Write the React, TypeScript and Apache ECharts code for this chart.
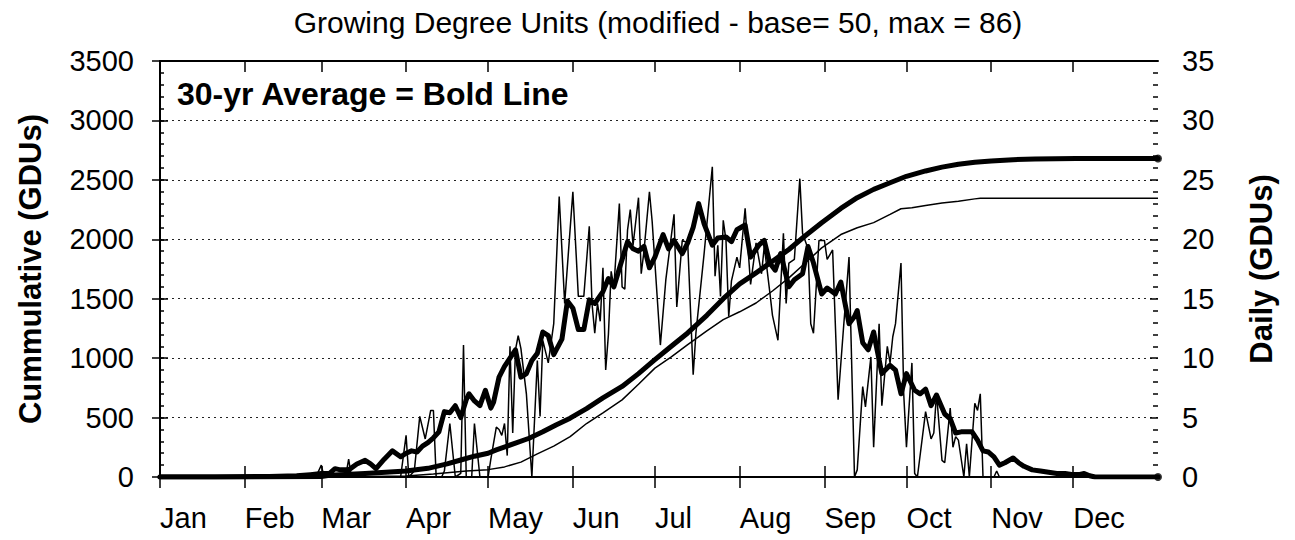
import React, { useEffect, useRef } from "react";
import * as echarts from "echarts";

const FONT = "'Liberation Sans', Arial, Helvetica, sans-serif";

const TITLE = "Growing Degree Units (modified - base= 50, max = 86)";
const NOTE = "30-yr Average = Bold Line";
const LEFT_NAME = "Cummulative (GDUs)";
const RIGHT_NAME = "Daily (GDUs)";

const MONTHS = ["Jan", "Feb", "Mar", "Apr", "May", "Jun", "Jul", "Aug", "Sep", "Oct", "Nov", "Dec"];
const MONTH_START = [0, 31, 59, 90, 120, 151, 181, 212, 243, 273, 304, 334];

// [day of year, GDUs]
const avgDaily: [number, number][] = [
  [0, 0], [20, 0], [40, 0.05], [50, 0.1], [55, 0.2], [59, 0.3], [62, 0.3], [64, 0.7], [66, 0.6], [69, 0.6],
  [72, 1.1], [75, 1.4], [77, 1.1], [79, 0.7], [82, 1.5], [85, 2.2], [88, 1.7], [90, 2.0], [92, 2.2], [94, 2.1],
  [96, 2.6], [98, 2.9], [100, 3.3], [102, 3.8], [104, 5.5], [106, 5.4], [108, 6.0], [110, 5.0], [112, 6.5], [113, 7.0],
  [115, 6.4], [117, 6.0], [119, 7.3], [121, 5.8], [122, 6.3], [124, 8.4], [126, 9.3], [128, 10.0], [130, 10.7], [132, 8.4],
  [134, 8.7], [136, 9.8], [138, 10.4], [140, 12.2], [142, 11.9], [144, 10.3], [147, 11.6], [149, 14.8], [151, 14.2], [153, 12.4],
  [155, 12.4], [157, 14.9], [159, 14.6], [162, 15.6], [164, 16.7], [166, 16.0], [169, 18.3], [171, 19.8], [173, 19.2], [175, 19.0],
  [177, 19.4], [179, 17.6], [181, 18.5], [184, 20.4], [186, 19.2], [188, 19.9], [191, 18.8], [193, 19.7], [195, 21.0], [197, 23.0],
  [199, 21.3], [202, 19.5], [204, 20.1], [207, 20.2], [209, 19.8], [211, 20.8], [214, 21.2], [216, 18.5], [219, 19.5], [221, 19.9],
  [223, 18.0], [225, 17.4], [227, 18.8], [230, 16.0], [232, 16.6], [235, 17.1], [237, 19.4], [239, 18.0], [242, 15.4], [244, 15.9],
  [247, 15.4], [249, 16.4], [252, 12.9], [254, 13.5], [255, 14.0], [257, 11.3], [259, 10.7], [261, 12.2], [262, 11.0], [264, 8.7],
  [267, 9.4], [269, 9.0], [271, 7.0], [273, 8.7], [276, 7.3], [278, 7.0], [280, 7.4], [282, 6.0], [284, 6.9], [287, 5.3],
  [289, 4.9], [291, 3.7], [293, 3.8], [297, 3.8], [299, 3.1], [301, 2.2], [303, 2.1], [305, 1.7], [307, 1.0], [309, 1.2],
  [312, 1.6], [314, 1.2], [316, 0.9], [319, 0.6], [322, 0.5], [325, 0.4], [328, 0.3], [331, 0.3], [334, 0.2], [336, 0.2],
  [338, 0.3], [340, 0.1], [342, 0], [365, 0],
];

const curDaily: [number, number][] = [
  [0, 0], [57, 0], [59, 1.0], [60, 0], [63, 0.3], [65, 0], [68, 0.2], [69, 1.5], [70, 0], [88, 0],
  [90, 3.5], [91, 0], [93, 0.5], [95, 5.1], [97, 3.2], [99, 5.6], [100, 5.6], [101, 0], [103, 0], [104, 0.5],
  [106, 4.5], [108, 0], [110, 0.3], [111, 11.1], [112, 0], [114, 0], [115, 4.5], [117, 0], [120, 0], [121, 1.5],
  [123, 4.2], [124, 4.0], [125, 3.5], [126, 4.5], [127, 1.8], [128, 11], [129, 3.7], [130, 10.7], [131, 11.9], [132, 10.8],
  [134, 7.0], [136, 0], [138, 9.8], [139, 5.1], [140, 11.5], [142, 9.6], [144, 12.9], [146, 23.6], [148, 14.6], [151, 24.0],
  [153, 15.2], [155, 15.2], [157, 21.1], [158, 14.6], [159, 12.1], [160, 14.6], [161, 13.1], [162, 17.6], [163, 9.0], [164, 12],
  [165, 17.3], [166, 16], [168, 23.0], [169, 16.0], [170, 15.8], [171, 20.8], [172, 22.5], [173, 19.5], [175, 23.5], [176, 17.1],
  [177, 19], [179, 24.0], [180, 21.5], [183, 11.1], [185, 16.6], [188, 22.1], [189, 14.3], [191, 19.9], [193, 19.7], [195, 8.6],
  [196, 12.1], [199, 18.8], [202, 26.1], [203, 16.9], [204, 19.5], [205, 15.2], [206, 21.6], [207, 19.9], [208, 13.5], [209, 16.5],
  [211, 18.5], [212, 17.6], [214, 22.6], [216, 16.2], [218, 19.7], [220, 17.1], [221, 19.4], [223, 15.6], [224, 13.6], [226, 11.5],
  [228, 20.5], [229, 14.6], [230, 18.0], [232, 18.3], [234, 25.1], [235, 20.5], [237, 19.2], [238, 12.9], [239, 12.1], [241, 19.9],
  [243, 19.9], [244, 18.3], [246, 19.1], [248, 6.5], [250, 12.6], [252, 18.5], [254, 0], [255, 0.6], [257, 7.6], [258, 5.9],
  [260, 10.1], [261, 2.5], [263, 12.9], [264, 6.0], [266, 11], [267, 9.6], [268, 11.8], [269, 12.9], [271, 18], [272, 7.0],
  [273, 2.5], [275, 9.6], [276, 0.3], [277, 0], [280, 5.5], [282, 3.2], [283, 3.7], [284, 7.0], [286, 1.4], [287, 1.2],
  [289, 5.8], [290, 2.5], [291, 3.4], [292, 3.1], [294, 0], [295, 2.8], [296, 0], [298, 6.2], [299, 5.6], [300, 7.0],
  [301, 0], [305, 0], [306, 0.5], [307, 0], [365, 0],
];

const avgCum: [number, number][] = [
  [0, 0], [30, 0], [59, 5], [62, 14], [75, 30], [90, 50], [98, 73], [105, 110], [110, 143], [115, 175],
  [120, 200], [123, 228], [130, 285], [135, 326], [140, 380], [145, 440], [150, 495], [156, 575], [162, 665], [169, 762],
  [175, 870], [181, 987], [187, 1100], [193, 1212], [200, 1360], [206, 1500], [212, 1625], [218, 1718], [224, 1815], [230, 1914],
  [236, 2030], [242, 2139], [249, 2260], [255, 2350], [261, 2420], [267, 2476], [273, 2530], [280, 2575], [286, 2607], [292, 2631],
  [298, 2648], [304, 2659], [312, 2670], [320, 2676], [335, 2680], [365, 2680],
];

const curCum: [number, number][] = [
  [0, 0], [59, 0], [70, 3], [90, 8], [100, 25], [107, 40], [112, 50], [120, 62], [126, 85], [132, 125],
  [138, 195], [144, 260], [150, 340], [156, 450], [162, 540], [169, 649], [175, 780], [181, 916], [187, 1010], [193, 1113],
  [200, 1230], [206, 1324], [212, 1390], [218, 1464], [224, 1565], [230, 1675], [236, 1800], [242, 1928], [249, 2040], [255, 2097],
  [261, 2140], [267, 2209], [271, 2257], [275, 2265], [280, 2285], [286, 2305], [292, 2321], [298, 2340], [300, 2345], [365, 2345],
];

const LEFT_MAX = 3500;
const LEFT_STEP = 500;
const RIGHT_MAX = 35;
const RIGHT_STEP = 5;

export default function App() {
  const ref = useRef<HTMLDivElement>(null);

  useEffect(() => {
    document.body.style.margin = "0";
    if (!ref.current) return;
    const chart = echarts.init(ref.current, null, { renderer: "svg" });
    const black = "#000";
    const tickLabelStyle = { color: black, fontSize: 29, fontFamily: FONT, formatter: (v: number) => String(v) };
    const nameStyle = { color: black, fontSize: 31, fontWeight: "bold", fontFamily: FONT };
    const xBase = { type: "value", min: 0, max: 365, splitLine: { show: false } };
    const monthTick = (inside: boolean) => ({
      show: true,
      customValues: MONTH_START,
      inside,
      length: 11,
      lineStyle: { color: black, width: 1.5 },
    });

    chart.setOption({
      animation: false,
      backgroundColor: "#fff",
      grid: { left: 160, right: 137, top: 61, bottom: 63, containLabel: false },
      graphic: [
        {
          type: "text",
          x: 658,
          y: 22,
          style: { text: TITLE, align: "center", verticalAlign: "middle", fontSize: 30, fontFamily: FONT, fill: black },
        },
        {
          type: "text",
          x: 177,
          y: 94,
          style: { text: NOTE, align: "left", verticalAlign: "middle", fontSize: 32, fontWeight: "bold", fontFamily: FONT, fill: black },
        },
      ],
      xAxis: [
        {
          ...xBase,
          position: "bottom",
          axisLine: { show: true, onZero: false, lineStyle: { color: black, width: 2 } },
          axisTick: monthTick(false),
          axisLabel: {
            ...tickLabelStyle,
            customValues: MONTH_START,
            align: "left",
            margin: 26,
            formatter: (v: number) => MONTHS[MONTH_START.indexOf(v)] ?? "",
          },
        },
        {
          ...xBase,
          position: "bottom",
          axisLine: { show: false },
          axisTick: monthTick(true),
          axisLabel: { show: false },
        },
        {
          ...xBase,
          position: "top",
          axisLine: { show: true, onZero: false, lineStyle: { color: black, width: 2 } },
          axisTick: monthTick(true),
          axisLabel: { show: false },
        },
      ],
      yAxis: [
        {
          type: "value",
          position: "left",
          min: 0,
          max: LEFT_MAX,
          interval: LEFT_STEP,
          name: LEFT_NAME,
          nameLocation: "middle",
          nameRotate: 90,
          nameGap: 114,
          nameTextStyle: nameStyle,
          axisLine: { show: true, lineStyle: { color: black, width: 2 } },
          axisTick: { show: true, length: 8, lineStyle: { color: black, width: 1.5 } },
          axisLabel: { ...tickLabelStyle, margin: 26 },
          splitLine: { show: true, lineStyle: { color: "#222", width: 1, type: [2, 4] } },
        },
        {
          type: "value",
          position: "right",
          min: 0,
          max: RIGHT_MAX,
          interval: RIGHT_STEP,
          name: RIGHT_NAME,
          nameLocation: "middle",
          nameRotate: 90,
          nameGap: 88,
          nameTextStyle: nameStyle,
          axisLine: { show: true, lineStyle: { color: black, width: 2 } },
          axisTick: { show: true, length: 8, lineStyle: { color: black, width: 1.5 } },
          axisLabel: { ...tickLabelStyle, margin: 24 },
          splitLine: { show: false },
        },
        {
          type: "value",
          position: "left",
          min: 0,
          max: LEFT_MAX,
          interval: LEFT_STEP,
          axisLine: { show: false },
          axisTick: { show: true, inside: true, length: 4, lineStyle: { color: black, width: 1.5 } },
          minorTick: { show: true, splitNumber: 5, length: 4, lineStyle: { color: black, width: 1.5 } },
          axisLabel: { show: false },
          splitLine: { show: false },
        },
        {
          type: "value",
          position: "right",
          min: 0,
          max: RIGHT_MAX,
          interval: RIGHT_STEP,
          axisLine: { show: false },
          axisTick: { show: true, inside: true, length: 8, lineStyle: { color: black, width: 1.5 } },
          minorTick: { show: true, splitNumber: 5, length: 5, lineStyle: { color: black, width: 1.5 } },
          axisLabel: { show: false },
          splitLine: { show: false },
        },
      ],
      series: [
        {
          type: "line",
          name: "Daily (current year)",
          xAxisIndex: 0,
          yAxisIndex: 1,
          data: curDaily,
          showSymbol: false,
          lineStyle: { color: black, width: 1.5 },
          z: 2,
        },
        {
          type: "line",
          name: "Cumulative (current year)",
          xAxisIndex: 0,
          yAxisIndex: 0,
          data: curCum,
          showSymbol: false,
          lineStyle: { color: black, width: 1.5 },
          z: 2,
        },
        {
          type: "line",
          name: "Daily (30-yr average)",
          xAxisIndex: 0,
          yAxisIndex: 1,
          data: avgDaily,
          showSymbol: false,
          lineStyle: { color: black, width: 5, cap: "round", join: "round" },
          z: 3,
        },
        {
          type: "line",
          name: "Cumulative (30-yr average)",
          xAxisIndex: 0,
          yAxisIndex: 0,
          data: avgCum,
          showSymbol: false,
          lineStyle: { color: black, width: 5, cap: "round", join: "round" },
          z: 3,
        },
        {
          type: "scatter",
          xAxisIndex: 0,
          yAxisIndex: 0,
          data: [avgCum[avgCum.length - 1]],
          symbolSize: 8,
          itemStyle: { color: black },
          z: 4,
        },
        {
          type: "scatter",
          xAxisIndex: 0,
          yAxisIndex: 1,
          data: [avgDaily[avgDaily.length - 1]],
          symbolSize: 8,
          itemStyle: { color: black },
          z: 4,
        },
      ],
    });
    return () => chart.dispose();
  }, []);

  return <div ref={ref} style={{ width: 1295, height: 540 }} />;
}
